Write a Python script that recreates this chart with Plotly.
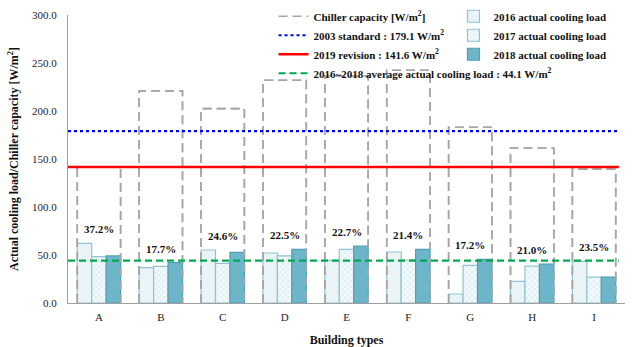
import plotly.graph_objects as go

categories = ["A", "B", "C", "D", "E", "F", "G", "H", "I"]
chiller_capacity = [142.0, 221.0, 202.5, 232.0, 236.5, 242.5, 183.0, 161.5, 139.5]
load_2016 = [62.2, 36.8, 55.2, 52.1, 44.5, 53.1, 9.4, 22.6, 43.4]
load_2017 = [48.3, 38.2, 41.3, 49.0, 55.9, 44.8, 39.2, 38.5, 27.0]
load_2018 = [49.0, 42.0, 52.8, 55.9, 59.4, 55.9, 45.5, 40.6, 27.0]
ratio_labels = ["37.2%", "17.7%", "24.6%", "22.5%", "22.7%", "21.4%", "17.2%", "21.0%", "23.5%"]
standard_2003 = 179.1
revision_2019 = 141.6
average_load = 44.1

FONT = "Liberation Serif, Times New Roman, serif"
idx = list(range(len(categories)))
half = 0.35

fig = go.Figure()

bx, by = [], []
for i, c in zip(idx, chiller_capacity):
    bx += [i - half, i - half, i + half, i + half, None]
    by += [0, c, c, 0, None]
box_line = dict(color="#A6A6A6", width=1.6, dash="9px,5px")
fig.add_trace(go.Scatter(
    x=bx, y=by, mode="lines", name="<b>Chiller capacity [W/m<sup>2</sup>]</b>",
    line=box_line, legend="legend"))

fig.add_trace(go.Bar(
    x=idx, y=load_2016, name="<b>2016 actual cooling load</b>", legend="legend2",
    marker=dict(color="#EAF4F7", line=dict(color="#8EC4D2", width=1.2))))
fig.add_trace(go.Bar(
    x=idx, y=load_2017, name="<b>2017 actual cooling load</b>", legend="legend2",
    marker=dict(color="#F4FAFC", line=dict(color="#8EC4D2", width=1.2),
                pattern=dict(shape="x", fgcolor="#A8D2DE", bgcolor="#F4FAFC", size=4, solidity=0.3))))
fig.add_trace(go.Bar(
    x=idx, y=load_2018, name="<b>2018 actual cooling load</b>", legend="legend2",
    marker=dict(color="#6DB6CA", line=dict(color="#4F9FB5", width=1.2))))

fig.add_trace(go.Scatter(
    x=bx, y=by, mode="lines", showlegend=False, hoverinfo="skip", line=box_line))

xr = [-0.5, 8.4]
fig.add_trace(go.Scatter(
    x=xr, y=[standard_2003] * 2, mode="lines", legend="legend",
    name="<b>2003 standard : 179.1 W/m<sup>2</sup></b>",
    line=dict(color="#0000FF", width=2.2, dash="dot")))
fig.add_trace(go.Scatter(
    x=xr, y=[revision_2019] * 2, mode="lines", legend="legend",
    name="<b>2019 revision : 141.6 W/m<sup>2</sup></b>",
    line=dict(color="#FF0000", width=2.6)))
fig.add_trace(go.Scatter(
    x=xr, y=[average_load] * 2, mode="lines", legend="legend",
    name="<b>2016~2018 average actual cooling load : 44.1 W/m<sup>2</sup></b>",
    line=dict(color="#00A84F", width=2.2, dash="7px,4px")))

for i in idx:
    top = max(load_2016[i], load_2017[i], load_2018[i])
    fig.add_annotation(x=i, y=top, text="<b>" + ratio_labels[i] + "</b>",
                       showarrow=False, yanchor="bottom", yshift=6,
                       font=dict(family=FONT, size=11, color="#111111"))

legend_font = dict(family=FONT, size=11, color="#111111")
fig.update_layout(
    width=632, height=347,
    margin=dict(l=68, r=7, t=15, b=44, autoexpand=False),
    paper_bgcolor="white", plot_bgcolor="white",
    barmode="group", bargap=0.3, bargroupgap=0,
    font=dict(family=FONT, size=11, color="#222222"),
    legend=dict(x=0.369, y=1.046, xanchor="left", yanchor="top",
                bgcolor="rgba(0,0,0,0)", font=legend_font, tracegroupgap=0, itemwidth=30),
    legend2=dict(x=0.692, y=1.046, xanchor="left", yanchor="top",
                 bgcolor="rgba(0,0,0,0)", font=legend_font, tracegroupgap=0, itemwidth=30),
)
fig.update_xaxes(range=[-0.5, 8.5], tickmode="array", tickvals=idx, ticktext=categories,
                 showgrid=False, zeroline=False, showline=True, linecolor="#A0A0A0", linewidth=1,
                 ticks="", ticklabelstandoff=4, tickfont=dict(family=FONT, size=11, color="#222222"),
                 title=dict(text="<b>Building types</b>", font=dict(family=FONT, size=12, color="#111111"), standoff=16))
fig.update_yaxes(range=[0, 300], dtick=50, tickformat=".1f", showgrid=False, zeroline=False,
                 showline=True, linecolor="#A0A0A0", linewidth=1, ticks="", ticklabelstandoff=8,
                 tickfont=dict(family=FONT, size=11, color="#222222"),
                 title=dict(text="<b>Actual cooling load/Chiller capacity [W/m<sup>2</sup>]</b>",
                            font=dict(family=FONT, size=12, color="#111111"), standoff=10))

fig.write_html("out.html", config={"displayModeBar": False},
               post_script="document.body.style.margin='0px';")
